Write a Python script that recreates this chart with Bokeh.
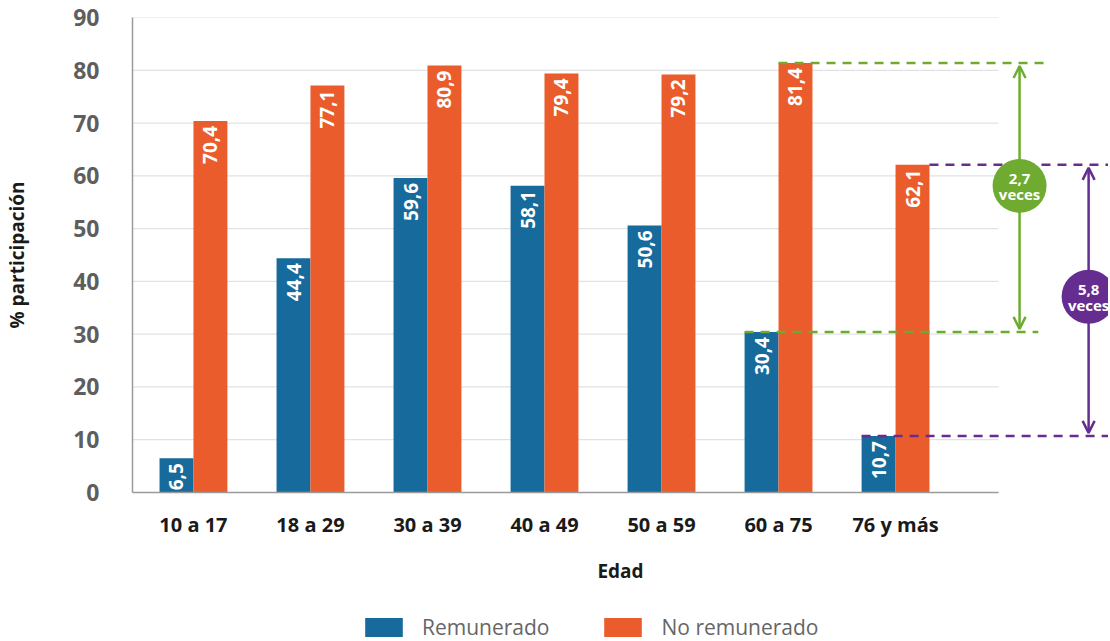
import math
from bokeh.plotting import figure
from bokeh.layouts import column
from bokeh.models import (ColumnDataSource, FixedTicker, Arrow, OpenHead, Legend, LegendItem, Range1d)
from bokeh.core.properties import value
from bokeh.embed import file_html
from bokeh.resources import INLINE

categories = ["10 a 17", "18 a 29", "30 a 39", "40 a 49", "50 a 59", "60 a 75", "76 y más"]
remunerado = [6.5, 44.4, 59.6, 58.1, 50.6, 30.4, 10.7]
no_remunerado = [70.4, 77.1, 80.9, 79.4, 79.2, 81.4, 62.1]
y_ticks = [0, 10, 20, 30, 40, 50, 60, 70, 80, 90]
ratio_labels = ["2,7", "5,8"]
series_names = ["Remunerado", "No remunerado"]

FONT = "Open Sans"
BLUE = "#176A9C"
ORANGE = "#EA5C2C"
GREEN = "#6EAB30"
PURPLE = "#662D91"

def fmt(v):
    return f"{v:.1f}".replace(".", ",")

n = len(categories)
xs = list(range(n))
bw = 0.29
x_lo, x_grid_hi, x_hi = -0.521, 6.88, 7.82
W = 1108

p = figure(width=W, height=600, output_backend="svg", toolbar_location=None,
           x_range=Range1d(x_lo, x_hi), y_range=Range1d(0, 90),
           min_border_left=132, min_border_right=0, min_border_top=17, min_border_bottom=108)
p.outline_line_color = None
p.xgrid.visible = False
p.ygrid.visible = False
p.background_fill_color = "white"

# gridlines limited to the chart area
p.segment(x0=[x_lo] * (len(y_ticks) - 1), x1=[x_grid_hi] * (len(y_ticks) - 1),
          y0=y_ticks[1:], y1=y_ticks[1:], line_color="#e2e2e2", line_width=1.2)

src = ColumnDataSource(dict(
    xb=[x - bw / 2 for x in xs], xo=[x + bw / 2 for x in xs],
    rem=remunerado, nrem=no_remunerado,
    lrem=[fmt(v) for v in remunerado], lnrem=[fmt(v) for v in no_remunerado]))

rb = p.vbar(x="xb", top="rem", width=bw, source=src, fill_color=BLUE, line_color=None)
ob = p.vbar(x="xo", top="nrem", width=bw, source=src, fill_color=ORANGE, line_color=None)

for xcol, ycol, lcol in [("xb", "rem", "lrem"), ("xo", "nrem", "lnrem")]:
    p.text(x=xcol, y=ycol, text=lcol, source=src, angle=math.pi / 2,
           text_align="right", text_baseline="middle", y_offset=5,
           text_color="white", text_font=value(FONT), text_font_style="bold",
           text_font_size="19px")

# comparison annotations: 60 a 75 (green) and 76 y más (purple)
i1, i2 = 5, 6
gx, px_ = 7.06, 7.65
dash = "9 7"
p.line(x=[i1, 7.30], y=[no_remunerado[i1]] * 2, line_color=GREEN, line_width=2.5, line_dash=dash)
p.line(x=[i1 - bw, 7.22], y=[remunerado[i1]] * 2, line_color=GREEN, line_width=2.5, line_dash=dash)
p.line(x=[i2 + bw, x_hi], y=[no_remunerado[i2]] * 2, line_color=PURPLE, line_width=2.5, line_dash=dash)
p.line(x=[i2 - bw, x_hi], y=[remunerado[i2]] * 2, line_color=PURPLE, line_width=2.5, line_dash=dash)

for xa, lo, hi, col in [(gx, remunerado[i1], no_remunerado[i1], GREEN),
                        (px_, remunerado[i2], no_remunerado[i2], PURPLE)]:
    p.add_layout(Arrow(start=OpenHead(size=12, line_color=col, line_width=2.5),
                       end=OpenHead(size=12, line_color=col, line_width=2.5),
                       x_start=xa, x_end=xa, y_start=lo + 0.6, y_end=hi - 0.6,
                       line_color=col, line_width=2.5, level="underlay"))

cy = [58.1, 37.1]
p.scatter(x=[gx, px_], y=cy, size=54, fill_color=[GREEN, PURPLE], line_color=None)
p.text(x=[gx, px_], y=cy, text=ratio_labels, y_offset=-7, text_align="center",
       text_baseline="middle", text_color="white", text_font=value(FONT),
       text_font_style="bold", text_font_size="15px")
p.text(x=[gx, px_], y=cy, text=["veces", "veces"], y_offset=8, text_align="center",
       text_baseline="middle", text_color="white", text_font=value(FONT),
       text_font_style="bold", text_font_size="15px")

# axes
p.xaxis.ticker = FixedTicker(ticks=xs)
p.xaxis.major_label_overrides = {i: c for i, c in enumerate(categories)}
p.xaxis.bounds = (x_lo, x_grid_hi)
p.xaxis.axis_line_color = "#9a9a9a"
p.xaxis.axis_line_width = 1.5
p.xaxis.major_tick_line_color = None
p.xaxis.minor_tick_line_color = None
p.xaxis.major_label_text_font = FONT
p.xaxis.major_label_text_font_style = "bold"
p.xaxis.major_label_text_font_size = "20px"
p.xaxis.major_label_text_color = "#1a1a1a"
p.xaxis.major_label_standoff = 12
p.xaxis.axis_label = "Edad"
p.xaxis.axis_label_text_font = FONT
p.xaxis.axis_label_text_font_style = "bold"
p.xaxis.axis_label_text_font_size = "19px"
p.xaxis.axis_label_text_color = "#1a1a1a"
p.xaxis.axis_label_standoff = 17

p.yaxis.ticker = FixedTicker(ticks=y_ticks)
p.yaxis.axis_line_color = "#9a9a9a"
p.yaxis.axis_line_width = 1.5
p.yaxis.major_tick_line_color = None
p.yaxis.minor_tick_line_color = None
p.yaxis.major_label_text_font = FONT
p.yaxis.major_label_text_font_style = "bold"
p.yaxis.major_label_text_font_size = "23px"
p.yaxis.major_label_text_color = "#5e5e5e"
p.yaxis.major_label_standoff = 27
p.yaxis.axis_label = "% participación"
p.yaxis.axis_label_text_font = FONT
p.yaxis.axis_label_text_font_style = "bold"
p.yaxis.axis_label_text_font_size = "19px"
p.yaxis.axis_label_text_color = "#1a1a1a"
p.yaxis.axis_label_standoff = 40

# legend strip
p2 = figure(width=W, height=41, output_backend="svg", toolbar_location=None,
            x_range=Range1d(0, 1), y_range=Range1d(0, 1),
            x_axis_location=None, y_axis_location=None, min_border=0)
p2.outline_line_color = None
p2.xgrid.visible = False
p2.ygrid.visible = False
l1 = p2.vbar(x=[-5], top=[-5], width=0.1, fill_color=BLUE, line_color=None)
l2 = p2.vbar(x=[-5], top=[-5], width=0.1, fill_color=ORANGE, line_color=None)
legend = Legend(items=[LegendItem(label=series_names[0], renderers=[l1]),
                       LegendItem(label=series_names[1], renderers=[l2])],
                location=(228, 0), orientation="horizontal",
                glyph_width=47, glyph_height=24, label_height=24, label_standoff=15,
                spacing=50, padding=0, margin=0, border_line_color=None,
                background_fill_alpha=0, label_text_font=FONT,
                label_text_font_size="21px", label_text_color="#666666")
p2.add_layout(legend)

layout = column(p, p2, spacing=0)
open("out.html", "w").write(file_html(layout, INLINE))
